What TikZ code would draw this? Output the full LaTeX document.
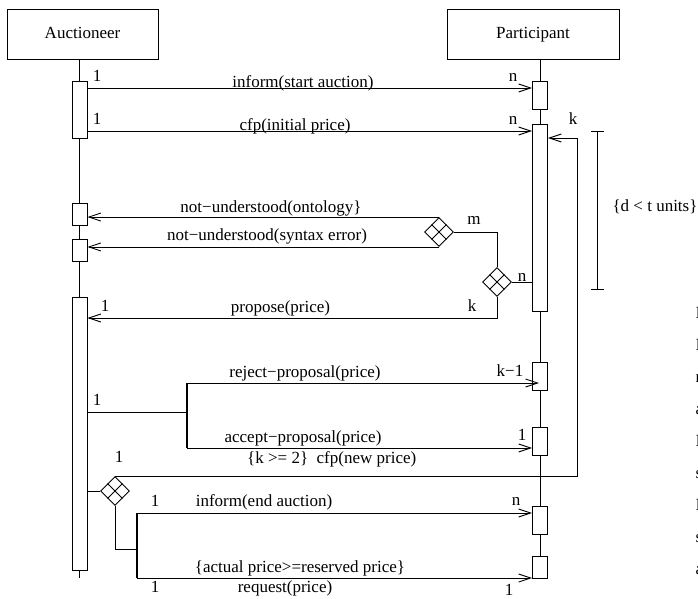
\documentclass[tikz,border=0pt]{standalone}
\usepackage{fontspec}
\setmainfont{Liberation Serif}
\usetikzlibrary{arrows.meta,shapes.geometric,calc,backgrounds}
\begin{document}
\begin{tikzpicture}[x=1pt,y=-1pt,
  every node/.style={font=\fontsize{17}{20}\selectfont},
  lbl/.style={anchor=base, inner sep=0pt},
  headbox/.style={draw, line width=0.9pt, minimum width=#1, minimum height=50pt, inner sep=0pt, text height=12pt, text depth=4pt},
  actbox/.style={draw, fill=white, line width=0.9pt, minimum width=15pt, minimum height=#1, inner sep=0pt},
  ln/.style={line width=0.9pt},
  msg/.style={ln, -{Straight Barb[length=12pt,width=8pt,line width=0.9pt]}},
  bar/.style={line width=2.6pt},
  xordiam/.style={draw, fill=white, diamond, aspect=1, minimum width=29pt, minimum height=29pt, inner sep=0pt, line width=0.9pt}
]
\useasboundingbox (0,0) rectangle (698,598);

% headers
\node[headbox=151pt] (hA) at (82.5,34) {Auctioneer};
\node[headbox=172pt] (hP) at (533,34) {Participant};

% activation boxes
\node[actbox=57pt] (a1) at (79.5,109.5) {};
\node[actbox=22pt] (a2) at (79.5,214) {};
\node[actbox=22pt] (a3) at (79.5,250) {};
\node[actbox=273pt] (a4) at (79.5,433.5) {};
\node[actbox=28pt] (p1) at (540,95) {};
\node[actbox=187pt] (p2) at (540,217.5) {};
\node[actbox=28pt] (p3) at (540,376) {};
\node[actbox=28pt] (p4) at (540,441) {};
\node[actbox=28pt] (p5) at (540,520) {};
\node[actbox=22pt] (p6) at (540,567) {};

% helper coordinates
\coordinate (aEnd) at (79.5,578);
\coordinate (pEnd) at (540,578);
\coordinate (y88) at (0,88);
\coordinate (y131) at (0,131);
\coordinate (y318) at (0,318);
\coordinate (y412) at (0,412);
\coordinate (lc) at (577,138);
\coordinate (b1t) at (187,383);
\coordinate (b1b) at (187,448);
\coordinate (b2t) at (137,513);
\coordinate (b2m) at (137,549);
\coordinate (b2b) at (137,578);
\coordinate (tTop) at (597,131);
\coordinate (tBot) at (597,289);

% lifelines
\begin{scope}[on background layer]
\draw[ln] (hA.south -| a1.center) -- (aEnd);
\draw[ln] (hP.south -| p1.center) -- (pEnd);
\end{scope}

% diamonds
\node[xordiam] (d1) at (439,232) {};
\node[xordiam] (d2) at (497,282) {};
\node[xordiam] (d3) at (115,491) {};
\foreach \d in {d1,d2,d3}{
  \draw[ln] ($(\d.north)!0.5!(\d.west)$) -- ($(\d.south)!0.5!(\d.east)$);
  \draw[ln] ($(\d.north)!0.5!(\d.east)$) -- ($(\d.south)!0.5!(\d.west)$);
}

% messages
\draw[msg] (a1.east |- y88) -- (p1.west |- y88);
\draw[msg] (a1.east |- y131) -- (p2.west |- y131);
\draw[msg] (d1.north) -- (d1.north -| a2.east);
\draw[msg] (d1.south) -- (d1.south -| a3.east);
\draw[ln] (d1.east) -| (d2.north);
\draw[ln] (d2.east) -- (d2.east -| p2.west);
\draw[msg] (d2.south) |- (a4.east |- y318);
\draw[ln] (a4.east |- y412) -- (b1t |- y412);
\draw[bar] (b1t) -- (b1b);
\draw[msg] (b1t) -- ([xshift=-1pt]p3.center |- b1t);
\draw[msg] (b1b) -- (b1b -| p4.west);
\draw[ln] (a4.east |- d3.west) -- (d3.west);
\draw[msg] (d3.north) -| (lc) -- (lc -| p2.east);
\draw[ln] (d3.south) |- (b2m);
\draw[bar] (b2t) -- (b2b);
\draw[msg] (b2t) -- (b2t -| p5.west);
\draw[msg] (b2b) -- (b2b -| p6.west);

% time constraint
\draw[ln] (tTop) -- (tBot);
\draw[ln] ([xshift=-6pt]tTop) -- ([xshift=7pt]tTop);
\draw[ln] ([xshift=-6pt]tBot) -- ([xshift=7pt]tBot);
\node[lbl] (tl) at (655,211) {\{d < t units\}};

% labels
\node[lbl] (l1) at (97,81) {1};
\node[lbl] (l2) at (97,124) {1};
\node[lbl] (l3) at (513,81) {n};
\node[lbl] (l4) at (513,124) {n};
\node[lbl] (l5) at (573,124) {k};
\node[lbl] (m1) at (303,87) {inform(start auction)};
\node[lbl] (m2) at (295,130) {cfp(initial price)};
\node[lbl] (m3) at (271,212) {not−understood(ontology\}};
\node[lbl] (m4) at (267,240) {not−understood(syntax error)};
\node[lbl] (l6) at (474,224) {m};
\node[lbl] (l7) at (522,281) {n};
\node[lbl] (l8) at (472,311) {k};
\node[lbl] (m5) at (280.5,312) {propose(price)};
\node[lbl] (l9) at (105,311) {1};
\node[lbl] (m6) at (305,377) {reject−proposal(price)};
\node[lbl] (l10) at (510,376) {k−1};
\node[lbl] (l11) at (97,405) {1};
\node[lbl] (m7) at (303,442) {accept−proposal(price)};
\node[lbl] (l12) at (522,440) {1};
\node[lbl] (l13) at (119,462) {1};
\node[lbl, anchor=base west] (m8) at (247,463) {\{k >= 2\}\ \ cfp(new price)};
\node[lbl] (l14) at (155,506) {1};
\node[lbl] (m9) at (264,506) {inform(end auction)};
\node[lbl] (l15) at (516,505) {n};
\node[lbl] (m10) at (300,572) {\{actual price>=reserved price\}};
\node[lbl] (m11) at (285,592) {request(price)};
\node[lbl] (l16) at (155,592) {1};
\node[lbl] (l17) at (509,595) {1};

% cut-off text at the right edge (only slivers visible, as in the reference)
\foreach \t [count=\i] in {I,I,r,a,I,s,I,s,a}{
  \node[lbl, anchor=base west] (f\i) at (695.5,{318+32*(\i-1)}) {\t};
}
\end{tikzpicture}
\end{document}
